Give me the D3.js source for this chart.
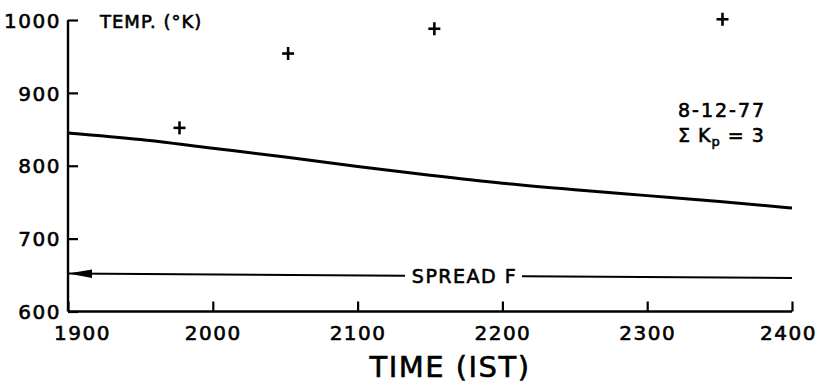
<!DOCTYPE html>
<html>
<head>
<meta charset="utf-8">
<script src="https://cdn.jsdelivr.net/npm/d3@7/dist/d3.min.js"></script>
<style>
  html, body { margin: 0; padding: 0; background: #fff; }
  svg { display: block; }
  text { font-family: "DejaVu Sans", sans-serif; fill: #000; stroke: #000; stroke-width: 0.6px; }
</style>
</head>
<body>
<svg id="chart" width="831" height="387"></svg>
<script>
// ---- data ----
const xTicks = [1900, 2000, 2100, 2200, 2300, 2400];
const yTicks = [600, 700, 800, 900, 1000];
const lineTimes = [1900, 1950, 2000, 2050, 2100, 2150, 2200, 2250, 2300, 2350, 2400];
const lineTemps = [845, 836, 824, 812, 799, 787, 776, 767, 759, 751, 742];
const pointTimes = [1977, 2052, 2153, 2352];
const pointTemps = [852, 954, 988, 1001];
const spreadTimes = [1900, 2400];
const spreadTemps = [652, 646];
const xLabel = "TIME (IST)";
const yLabel = "TEMP. (°K)";
const noteDate = "8-12-77";
const spreadLabel = "SPREAD F";

// ---- layout ----
const svg = d3.select("#chart");
const x = d3.scaleLinear().domain([1900, 2400]).range([68, 792]);
const y = d3.scaleLinear().domain([600, 1000]).range([311.5, 20]);

// axes
const xAxis = d3.axisBottom(x).tickValues(xTicks).tickSize(-10).tickPadding(17).tickFormat(d3.format("d"));
const yAxis = d3.axisLeft(y).tickValues(yTicks).tickSize(-10).tickPadding(7).tickFormat(d3.format("d"));

const gx = svg.append("g").attr("transform", `translate(0,${y(600)})`).call(xAxis);
const gy = svg.append("g").attr("transform", `translate(${x(1900)},0)`).call(yAxis);

[gx, gy].forEach(g => {
  g.select(".domain").attr("stroke", "#000").attr("stroke-width", 2.4);
  g.selectAll(".tick line").attr("stroke", "#000").attr("stroke-width", 2.2);
  g.selectAll(".tick text").attr("font-size", 20).attr("letter-spacing", 1.5)
    .attr("font-family", "DejaVu Sans, sans-serif").attr("fill", "#000");
});
gx.select(".domain").attr("d", `M${x(1900)},0H${x(2400)}`);
gy.select(".domain").attr("d", `M0,${y(600)}V${y(1000)}`);
gx.selectAll(".tick text").attr("dy", "0.55em")
  .attr("dx", d => d === 1900 ? 14 : d === 2400 ? -4 : 0);
gy.selectAll(".tick text").attr("dy", "0.36em");

// temperature curve
const lineData = lineTimes.map((t, i) => [t, lineTemps[i]]);
svg.append("path")
  .datum(lineData)
  .attr("fill", "none").attr("stroke", "#000").attr("stroke-width", 3)
  .attr("d", d3.line().x(d => x(d[0])).y(d => y(d[1])).curve(d3.curveMonotoneX));

// plus markers
const pts = pointTimes.map((t, i) => [t, pointTemps[i]]);
const plusG = svg.append("g").attr("stroke", "#000").attr("stroke-width", 2.6);
plusG.selectAll("g").data(pts).join("g")
  .attr("transform", d => `translate(${x(d[0])},${y(d[1])})`)
  .each(function() {
    const g = d3.select(this);
    g.append("line").attr("x1", -6).attr("x2", 6).attr("y1", 0).attr("y2", 0);
    g.append("line").attr("x1", 0).attr("x2", 0).attr("y1", -6.5).attr("y2", 6.5);
  });

// spread F line with arrow and gap for label
const sx0 = x(spreadTimes[0]), sx1 = x(spreadTimes[1]);
const sy0 = y(spreadTemps[0]), sy1 = y(spreadTemps[1]);
const syAt = px => sy0 + (sy1 - sy0) * (px - sx0) / (sx1 - sx0);
const gapL = 405, gapR = 522;
svg.append("path")
  .attr("fill", "none").attr("stroke", "#000").attr("stroke-width", 2)
  .attr("d", `M${sx0},${sy0}L${gapL},${syAt(gapL)}M${gapR},${syAt(gapR)}L${sx1},${sy1}`);
svg.append("path")
  .attr("fill", "#000")
  .attr("d", `M${sx0},${sy0}L${sx0 + 24},${sy0 - 4}L${sx0 + 24},${sy0 + 4.5}Z`);
svg.append("text")
  .attr("x", (gapL + gapR) / 2 + 1).attr("y", syAt((gapL + gapR) / 2) + 7)
  .attr("text-anchor", "middle").attr("font-size", 19).attr("letter-spacing", 1.5)
  .text(spreadLabel);

// labels
svg.append("text")
  .attr("x", 450).attr("y", 377).attr("text-anchor", "middle")
  .attr("font-size", 29).attr("letter-spacing", 1.5)
  .text(xLabel);
svg.append("text")
  .attr("x", 100).attr("y", 28).attr("font-size", 18).attr("letter-spacing", 1)
  .text(yLabel);

// annotation
svg.append("text")
  .attr("x", 678).attr("y", 117).attr("font-size", 19).attr("letter-spacing", 2)
  .text(noteDate);
const sig = svg.append("text").attr("x", 678).attr("y", 142).attr("font-size", 19).attr("letter-spacing", 1);
sig.append("tspan").text("Σ K");
sig.append("tspan").attr("font-size", 13).attr("dy", 4).text("p");
sig.append("tspan").attr("dy", -4).text(" = 3");
</script>
</body>
</html>
